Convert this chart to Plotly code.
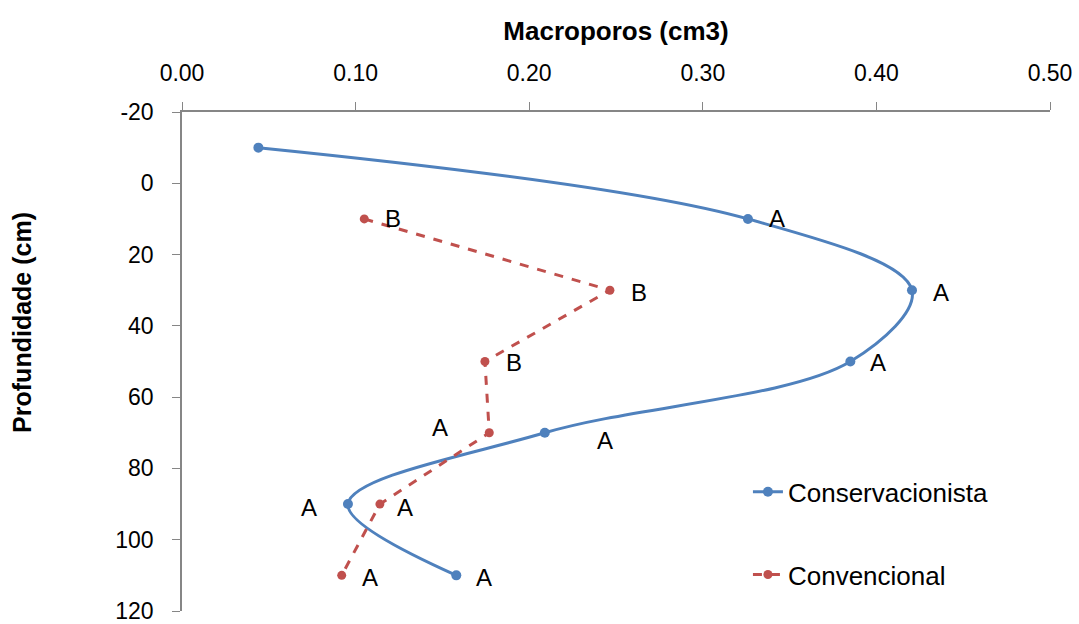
import plotly.graph_objects as go

depth = [-10, 10, 30, 50, 70, 90, 110]
conserv = [0.044, 0.326, 0.4205, 0.385, 0.209, 0.0956, 0.158]
conserv_lbl = ["", "A", "A", "A", "A", "A", "A"]
depth_conv = [10, 30, 50, 70, 90, 110]
conv = [0.105, 0.2465, 0.1745, 0.177, 0.114, 0.092]
conv_lbl = ["B", "B", "B", "A", "A", "A"]
x_ticks = [0, 0.1, 0.2, 0.3, 0.4, 0.5]
y_ticks = [-20, 0, 20, 40, 60, 80, 100, 120]
y_ticktext = ["-20", "0", "20", "40", "60", "80", "100", "120"]

blue = "#4F81BD"
red = "#C0504D"
font = "Liberation Sans, Arial, sans-serif"

fig = go.Figure()
fig.add_trace(go.Scatter(
    x=conserv, y=depth, mode="lines+markers", name="Conservacionista",
    line=dict(color=blue, width=3, shape="spline", smoothing=1.0),
    marker=dict(size=10, color=blue), legendgroup="a"))
fig.add_trace(go.Scatter(
    x=conv, y=depth_conv, mode="lines+markers", name="Convencional",
    line=dict(color=red, width=3, dash="dash"),
    marker=dict(size=9, color=red), legendgroup="b"))

# label offsets (style, in pixels)
blue_off = [(0, 0), (29, 0), (29, -2), (28, -1), (60, -8), (-39, -3), (28, -2)]
red_off = [(29, 0), (29, -2), (29, -1), (-49, 5), (25, -3), (28, -2)]
for xv, yv, t, (dx, dy) in zip(conserv, depth, conserv_lbl, blue_off):
    if t:
        fig.add_annotation(x=xv, y=yv, text=t, showarrow=False, xshift=dx, yshift=dy,
                           font=dict(size=24, color="black", family=font))
for xv, yv, t, (dx, dy) in zip(conv, depth_conv, conv_lbl, red_off):
    fig.add_annotation(x=xv, y=yv, text=t, showarrow=False, xshift=dx, yshift=dy,
                       font=dict(size=24, color="black", family=font))

# y-axis title (placed like the original, slightly above the axis centre)
fig.add_annotation(xref="paper", yref="paper", x=-0.203, y=0.579, textangle=-90,
                   text="<b>Profundidade (cm)</b>", showarrow=False,
                   font=dict(size=25, color="black", family=font))

fig.update_layout(
    width=1079, height=624,
    margin=dict(l=182, r=29, t=112, b=13, autoexpand=False),
    paper_bgcolor="white", plot_bgcolor="white",
    font=dict(family=font, size=23, color="black"),
    showlegend=True,
    legend=dict(x=0.652, y=0.286, xanchor="left", yanchor="top",
                tracegroupgap=46, font=dict(size=26, family=font),
                bgcolor="rgba(0,0,0,0)"),
    xaxis=dict(side="top", range=[0, 0.5], tickvals=x_ticks,
               tickformat=".2f", ticklabeloverflow="allow",
               showgrid=False, zeroline=False, showline=True, linecolor="#868686",
               linewidth=1.5, ticks="outside", tickcolor="#868686", ticklen=8,
               ticklabelstandoff=12,
               title=dict(text="<b>Macroporos (cm3)</b>", font=dict(size=26), standoff=12),
               tickfont=dict(size=23)),
    yaxis=dict(range=[120, -20], tickvals=y_ticks, ticktext=y_ticktext,
               ticklabeloverflow="allow",
               showgrid=False, zeroline=False,
               showline=True, linecolor="#868686", linewidth=1.5, ticks="outside",
               tickcolor="#868686", ticklen=8, ticklabelstandoff=14,
               tickfont=dict(size=23)),
)
fig.write_html("out.html", config={"displayModeBar": False},
               post_script="document.body.style.margin='0';")
